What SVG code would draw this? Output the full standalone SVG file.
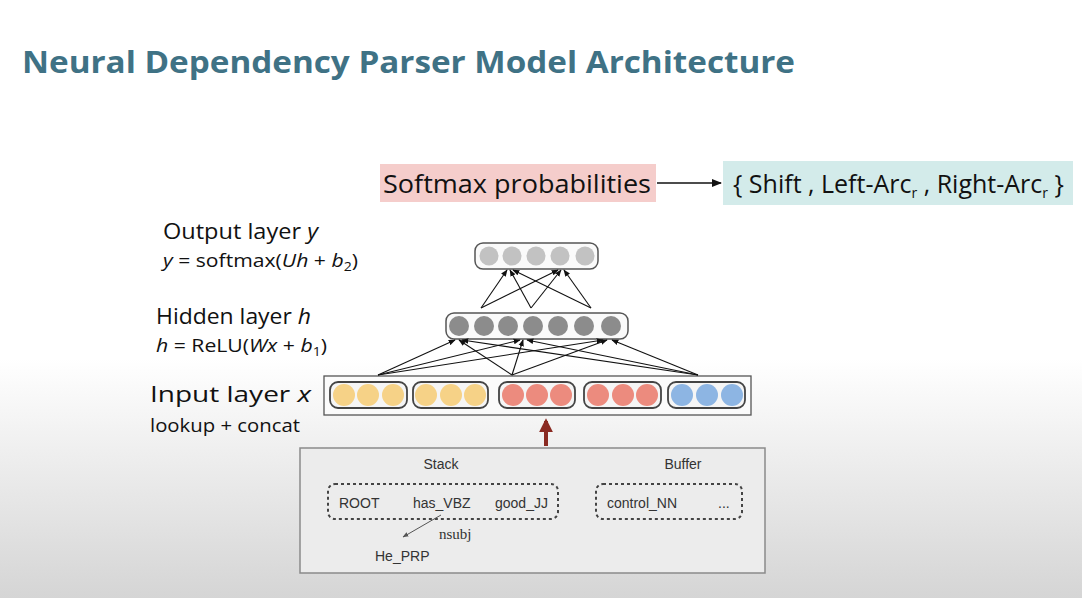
<svg xmlns="http://www.w3.org/2000/svg" width="1082" height="598" viewBox="0 0 1082 598">
<defs>
<linearGradient id="bg" x1="0" y1="0" x2="0" y2="1">
<stop offset="0" stop-color="#ffffff"/>
<stop offset="0.6" stop-color="#ffffff"/>
<stop offset="1" stop-color="#d5d5d5"/>
</linearGradient>
<marker id="ah" viewBox="0 0 10 10" refX="9" refY="5" markerWidth="7" markerHeight="7" orient="auto-start-reverse" markerUnits="userSpaceOnUse">
<path d="M0,1 L10,5 L0,9 z" fill="#111"/>
</marker>
<marker id="ahBig" viewBox="0 0 10 10" refX="9" refY="5" markerWidth="10" markerHeight="10" orient="auto" markerUnits="userSpaceOnUse">
<path d="M0,1 L10,5 L0,9 z" fill="#111"/>
</marker>
<marker id="ahRed" viewBox="0 0 10 10" refX="8" refY="5" markerWidth="14" markerHeight="14" orient="auto" markerUnits="userSpaceOnUse">
<path d="M0,0 L10,5 L0,10 z" fill="#8a2a22"/>
</marker>
<marker id="ahGray" viewBox="0 0 10 10" refX="9" refY="5" markerWidth="6" markerHeight="6" orient="auto" markerUnits="userSpaceOnUse">
<path d="M0,1 L10,5 L0,9 z" fill="#555"/>
</marker>
</defs>
<style>
.sans{font-family:"Open Sans","Liberation Sans",sans-serif;fill:#111}
.lbl{font-size:22px}
.eq{font-size:18px}
.layer{fill:#fafafa;stroke:#555;stroke-width:1.5}
.grp{fill:#f5f5f5;stroke:#444;stroke-width:1.8}
.yel{fill:#f6d287}
.red{fill:#ec8b7e}
.blu{fill:#8db5e3}
.hid{fill:#8c8c8c}
.out{fill:#c2c2c2}
.conn{stroke:#111;stroke-width:1.1;fill:none;marker-end:url(#ah)}
.small{font-family:"Liberation Sans","DejaVu Sans",sans-serif;font-size:14px;fill:#333}
.dot{fill:none;stroke:#444;stroke-width:2;stroke-dasharray:3 3}
</style>
<rect x="0" y="0" width="1082" height="598" fill="url(#bg)"/>

<g id="title">
<text x="22" y="73" font-family="'Open Sans','Liberation Sans',sans-serif" font-weight="bold" font-size="30" fill="#3f7285" textLength="773" lengthAdjust="spacingAndGlyphs">Neural Dependency Parser Model Architecture</text>
</g>

<g id="softmax">
<rect x="380" y="164" width="276" height="38" fill="#f5cdcb"/>
<text class="sans" x="383" y="193" font-size="25" textLength="268" lengthAdjust="spacingAndGlyphs">Softmax probabilities</text>
</g>

<g id="actions">
<rect x="723" y="161" width="350" height="44" fill="#d3ebea"/>
<text class="sans" x="733" y="193" font-size="25">{ Shift , Left-Arc<tspan font-size="14" dy="5">r</tspan><tspan dy="-5"> , Right-Arc</tspan><tspan font-size="14" dy="5">r</tspan><tspan dy="-5"> }</tspan></text>
</g>

<g id="labels">
<text class="sans lbl" x="163" y="239" textLength="155" lengthAdjust="spacingAndGlyphs">Output layer <tspan font-style="italic">y</tspan></text>
<text class="sans eq" x="163" y="267" textLength="195" lengthAdjust="spacingAndGlyphs"><tspan font-style="italic">y</tspan> = softmax(<tspan font-style="italic">Uh</tspan> + <tspan font-style="italic">b</tspan><tspan font-size="12" dy="4">2</tspan><tspan dy="-4">)</tspan></text>
<text class="sans lbl" x="156" y="324" textLength="155" lengthAdjust="spacingAndGlyphs">Hidden layer <tspan font-style="italic">h</tspan></text>
<text class="sans eq" x="156" y="352" textLength="171" lengthAdjust="spacingAndGlyphs"><tspan font-style="italic">h</tspan> = ReLU(<tspan font-style="italic">Wx</tspan> + <tspan font-style="italic">b</tspan><tspan font-size="12" dy="4">1</tspan><tspan dy="-4">)</tspan></text>
<text class="sans lbl" x="150" y="402" textLength="161" lengthAdjust="spacingAndGlyphs">Input layer <tspan font-style="italic">x</tspan></text>
<text class="sans" x="150" y="432" font-size="19" textLength="150" lengthAdjust="spacingAndGlyphs">lookup + concat</text>
</g>

<g id="output-layer">
<rect class="layer" x="475" y="243" width="123" height="26" rx="8"/>
<circle class="out" cx="489" cy="256" r="9.5"/>
<circle class="out" cx="512" cy="256" r="9.5"/>
<circle class="out" cx="536" cy="256" r="9.5"/>
<circle class="out" cx="560" cy="256" r="9.5"/>
<circle class="out" cx="585" cy="256" r="9.5"/>
</g>

<g id="hidden-layer">
<rect class="layer" x="446" y="313" width="182" height="26" rx="8"/>
<circle class="hid" cx="459" cy="326" r="10"/>
<circle class="hid" cx="484" cy="326" r="10"/>
<circle class="hid" cx="508" cy="326" r="10"/>
<circle class="hid" cx="533" cy="326" r="10"/>
<circle class="hid" cx="558" cy="326" r="10"/>
<circle class="hid" cx="584" cy="326" r="10"/>
<circle class="hid" cx="611" cy="326" r="10"/>
</g>

<g id="input-layer">
<rect x="324" y="376" width="427" height="39" fill="#fbfbfb" stroke="#555" stroke-width="1.3"/>
<rect class="grp" x="330" y="382" width="77" height="26" rx="8"/>
<circle class="yel" cx="344" cy="395" r="11"/>
<circle class="yel" cx="368" cy="395" r="11"/>
<circle class="yel" cx="393" cy="395" r="11"/>
<rect class="grp" x="413" y="382" width="75" height="26" rx="8"/>
<circle class="yel" cx="426" cy="395" r="11"/>
<circle class="yel" cx="451" cy="395" r="11"/>
<circle class="yel" cx="475" cy="395" r="11"/>
<rect class="grp" x="499" y="382" width="76" height="26" rx="8"/>
<circle class="red" cx="513" cy="395" r="11"/>
<circle class="red" cx="537" cy="395" r="11"/>
<circle class="red" cx="561" cy="395" r="11"/>
<rect class="grp" x="584" y="382" width="77" height="26" rx="8"/>
<circle class="red" cx="598" cy="395" r="11"/>
<circle class="red" cx="623" cy="395" r="11"/>
<circle class="red" cx="647" cy="395" r="11"/>
<rect class="grp" x="668" y="382" width="77" height="26" rx="8"/>
<circle class="blu" cx="682" cy="395" r="11"/>
<circle class="blu" cx="707" cy="395" r="11"/>
<circle class="blu" cx="732" cy="395" r="11"/>
</g>

<g id="configuration">
<rect x="300" y="448" width="465" height="125" fill="#ececec" stroke="#8a8a8a" stroke-width="1.5"/>
<text class="small" x="441" y="469" text-anchor="middle">Stack</text>
<text class="small" x="683" y="469" text-anchor="middle">Buffer</text>
<rect class="dot" x="328" y="484" width="230" height="35" rx="7"/>
<text class="small" x="339" y="508" font-size="15">ROOT</text>
<text class="small" x="413" y="508" font-size="15">has_VBZ</text>
<text class="small" x="495" y="508" font-size="15">good_JJ</text>
<rect class="dot" x="596" y="484" width="146" height="35" rx="7"/>
<text class="small" x="607" y="508">control_NN</text>
<text class="small" x="718" y="508">...</text>
<line x1="441" y1="515" x2="403" y2="537" stroke="#555" stroke-width="1" marker-end="url(#ahGray)"/>
<text x="439" y="539" font-family="'Liberation Serif',serif" font-size="15" fill="#333">nsubj</text>
<text class="small" x="375" y="561">He_PRP</text>
</g>

<g id="connectors">
<line x1="657" y1="183" x2="721" y2="183" stroke="#111" stroke-width="1.5" marker-end="url(#ahBig)"/>
<line x1="546" y1="446" x2="546" y2="421" stroke="#8a2a22" stroke-width="4" marker-end="url(#ahRed)"/>
<line class="conn" x1="481" y1="308" x2="507" y2="270"/>
<line class="conn" x1="481" y1="308" x2="558" y2="270"/>
<line class="conn" x1="531" y1="308" x2="510" y2="270"/>
<line class="conn" x1="531" y1="308" x2="561" y2="270"/>
<line class="conn" x1="591" y1="308" x2="513" y2="270"/>
<line class="conn" x1="591" y1="308" x2="564" y2="270"/>
<line class="conn" x1="378" y1="375" x2="455" y2="340"/>
<line class="conn" x1="378" y1="375" x2="520" y2="340"/>
<line class="conn" x1="378" y1="375" x2="603" y2="340"/>
<line class="conn" x1="512" y1="375" x2="459" y2="340"/>
<line class="conn" x1="512" y1="375" x2="523" y2="340"/>
<line class="conn" x1="512" y1="375" x2="607" y2="340"/>
<line class="conn" x1="698" y1="375" x2="462" y2="340"/>
<line class="conn" x1="698" y1="375" x2="527" y2="340"/>
<line class="conn" x1="698" y1="375" x2="612" y2="340"/>
</g>
</svg>
